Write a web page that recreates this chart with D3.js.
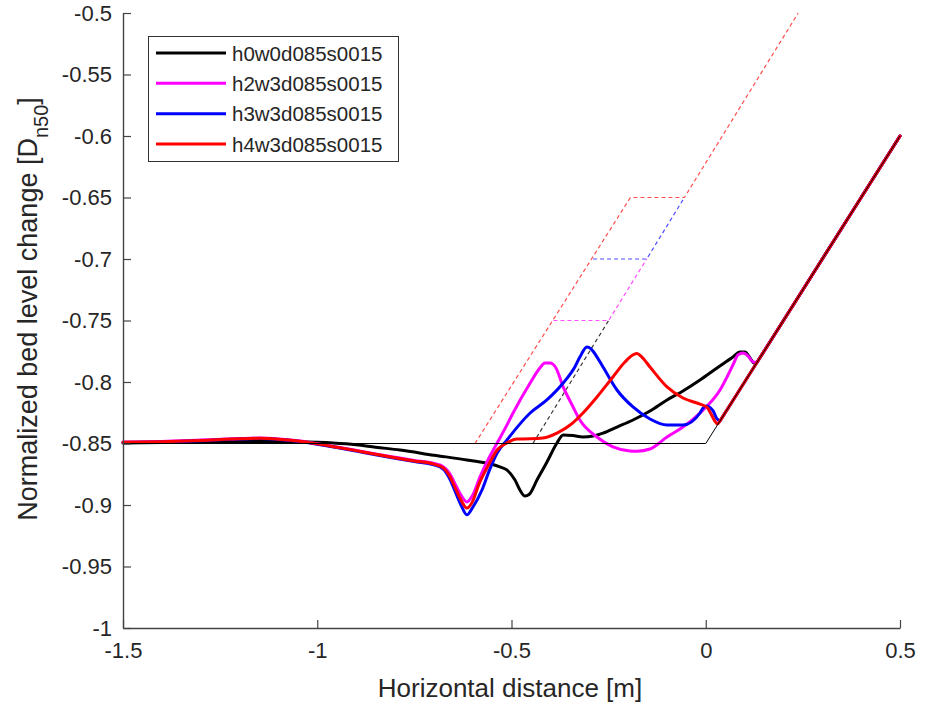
<!DOCTYPE html>
<html>
<head>
<meta charset="utf-8">
<script src="https://cdn.jsdelivr.net/npm/d3@7"></script>
<style>
  html, body { margin: 0; padding: 0; background: #fff; }
  svg { display: block; font-family: "Liberation Sans", Arial, Helvetica, sans-serif; }
</style>
</head>
<body>
<svg id="chart" width="928" height="702"></svg>
<script>
// ---- data -------------------------------------------------------------
const seriesNames = ["h0w0d085s0015", "h2w3d085s0015", "h3w3d085s0015", "h4w3d085s0015"];
const seriesColors = ["#000000", "#ff00ff", "#0000ff", "#ff0000"];

const xTickValues = [-1.5, -1, -0.5, 0, 0.5];
const xTickLabels = ["-1.5", "-1", "-0.5", "0", "0.5"];
const yTickValues = [-1, -0.95, -0.9, -0.85, -0.8, -0.75, -0.7, -0.65, -0.6, -0.55, -0.5];
const yTickLabels = ["-1", "-0.95", "-0.9", "-0.85", "-0.8", "-0.75", "-0.7", "-0.65", "-0.6", "-0.55", "-0.5"];

// initial bed profile: flat bottom, then 1:2 slope
const initialProfile = [[-1.5, -0.85], [0, -0.85], [0.5, -0.6]];

// measured bed profiles [x, z]; the last point is the top of the slope
const profileH0 = [[-1.5,-0.8495],[-1.4,-0.8492],[-1.3,-0.8488],[-1.2,-0.8484],[-1.1,-0.8484],[-1.0,-0.849],
  [-0.959,-0.8496],[-0.9,-0.851],[-0.85,-0.853],[-0.787,-0.8553],[-0.7,-0.8595],[-0.615,-0.8634],[-0.53,-0.869],
  [-0.512,-0.8715],[-0.491,-0.8797],[-0.478,-0.888],[-0.4653,-0.8927],[-0.455,-0.8915],[-0.4344,-0.8797],
  [-0.4087,-0.865],[-0.383,-0.8496],[-0.367,-0.843],[-0.342,-0.8435],[-0.316,-0.8447],[-0.29,-0.8439],
  [-0.2645,-0.8415],[-0.2285,-0.8366],[-0.1873,-0.8309],[-0.1435,-0.8236],[-0.0997,-0.8146],[-0.0586,-0.8073],
  [-0.0148,-0.7984],[0.029,-0.7886],[0.07,-0.7797],[0.088,-0.7756],[0.101,-0.7756],[0.114,-0.7805],
  [0.124,-0.7846],[0.131,-0.7845],[0.5,-0.6]];

const profileH2 = [[-1.5,-0.8488],[-1.4,-0.8483],[-1.3,-0.8472],[-1.2,-0.846],[-1.15,-0.8456],[-1.1,-0.8463],
  [-1.05,-0.8478],[-1.0,-0.8502],[-0.95,-0.8528],[-0.9,-0.8556],[-0.85,-0.8585],[-0.8,-0.8612],[-0.75,-0.8638],
  [-0.7,-0.8662],[-0.675,-0.869],[-0.66,-0.874],[-0.645,-0.883],[-0.63,-0.892],[-0.615,-0.8975],[-0.6,-0.892],
  [-0.581,-0.8772],[-0.56,-0.863],[-0.537,-0.8496],[-0.516,-0.8375],[-0.496,-0.8252],[-0.452,-0.8008],
  [-0.427,-0.7886],[-0.414,-0.7846],[-0.401,-0.7846],[-0.3855,-0.7886],[-0.367,-0.804],[-0.344,-0.8187],
  [-0.324,-0.8309],[-0.28,-0.8447],[-0.239,-0.8528],[-0.195,-0.8561],[-0.177,-0.8563],[-0.1435,-0.8545],
  [-0.0997,-0.8447],[-0.0586,-0.8366],[-0.0148,-0.8252],[0.0367,-0.8065],[0.07,-0.7862],[0.083,-0.778],
  [0.096,-0.7764],[0.109,-0.7789],[0.122,-0.7837],[0.132,-0.784],[0.5,-0.6]];

const profileH3 = [[-1.5,-0.8492],[-1.4,-0.8487],[-1.3,-0.8477],[-1.2,-0.8464],[-1.15,-0.846],[-1.1,-0.8467],
  [-1.05,-0.8482],[-1.0,-0.8506],[-0.95,-0.8533],[-0.9,-0.8562],[-0.85,-0.8592],[-0.8,-0.862],[-0.75,-0.8647],
  [-0.7,-0.8673],[-0.675,-0.871],[-0.66,-0.878],[-0.645,-0.889],[-0.63,-0.9],[-0.615,-0.908],[-0.6,-0.902],
  [-0.576,-0.8878],[-0.556,-0.871],[-0.537,-0.8577],[-0.512,-0.8472],[-0.452,-0.8252],[-0.409,-0.8146],
  [-0.367,-0.8008],[-0.337,-0.7878],[-0.324,-0.7797],[-0.306,-0.7715],[-0.296,-0.7728],[-0.29,-0.775],
  [-0.2645,-0.7878],[-0.2285,-0.8065],[-0.1873,-0.8203],[-0.1435,-0.8301],[-0.0997,-0.835],[-0.0586,-0.835],
  [-0.0148,-0.8252],[-0.007,-0.8211],[0.003,-0.8195],[0.012,-0.821],[0.019,-0.8235],[0.028,-0.8295],
  [0.036,-0.832],[0.5,-0.6]];

const profileH4 = [[-1.5,-0.849],[-1.4,-0.8485],[-1.3,-0.8475],[-1.2,-0.8462],[-1.15,-0.8458],[-1.1,-0.8465],
  [-1.05,-0.848],[-1.0,-0.8503],[-0.95,-0.853],[-0.9,-0.8558],[-0.85,-0.8588],[-0.8,-0.8616],[-0.75,-0.8642],
  [-0.7,-0.8668],[-0.675,-0.87],[-0.66,-0.876],[-0.645,-0.886],[-0.63,-0.896],[-0.615,-0.9025],[-0.6,-0.897],
  [-0.585,-0.884],[-0.56,-0.868],[-0.537,-0.8553],[-0.512,-0.8496],[-0.486,-0.8463],[-0.452,-0.8462],
  [-0.419,-0.8455],[-0.383,-0.8415],[-0.349,-0.835],[-0.316,-0.8252],[-0.28,-0.8122],[-0.239,-0.7959],
  [-0.208,-0.7837],[-0.185,-0.7775],[-0.177,-0.7768],[-0.165,-0.7795],[-0.1435,-0.7878],[-0.0997,-0.804],
  [-0.0586,-0.813],[-0.0148,-0.818],[0.003,-0.8205],[0.012,-0.825],[0.022,-0.831],[0.03,-0.834],
  [0.036,-0.832],[0.5,-0.6]];

// structure outlines (dashed)
const outlineH0 = [[-0.445,-0.85],[-0.25,-0.75]];
const outlineH2 = [[-0.392,-0.75],[-0.25,-0.75],[-0.152,-0.70]];
const outlineH3 = [[-0.29,-0.70],[-0.152,-0.70],[-0.055,-0.65]];
const outlineH4 = [[-0.594,-0.85],[-0.194,-0.65],[-0.055,-0.65],[0.238,-0.5]];

const profiles = [profileH0, profileH2, profileH3, profileH4];
const outlines = [outlineH0, outlineH2, outlineH3, outlineH4];
const outlineColors = ["#3a3a3a", "#ff4dff", "#4d4dff", "#ff4d4d"];

// ---- layout -----------------------------------------------------------
const svg = d3.select("#chart");
const x = d3.scaleLinear().domain([-1.5, 0.5]).range([123, 900]);
const y = d3.scaleLinear().domain([-1, -0.5]).range([628, 13]);
const textColor = "#262626";

const line = d3.line().x(d => x(d[0])).y(d => y(d[1]));
const smooth = d3.line().x(d => x(d[0])).y(d => y(d[1])).curve(d3.curveMonotoneX);

// smooth measured part, then straight along the undisturbed slope
function profilePath(p) {
  const last = p[p.length - 1];
  return smooth(p.slice(0, -1)) + "L" + x(last[0]) + "," + y(last[1]);
}

// dashed structure outlines
const gOut = svg.append("g");
outlines.forEach((o, i) => {
  gOut.append("path")
    .attr("d", line(o))
    .attr("fill", "none")
    .attr("stroke", outlineColors[i])
    .attr("stroke-width", 1.2)
    .attr("stroke-dasharray", "4,3");
});

// bed profiles
const gProf = svg.append("g");
profiles.forEach((p, i) => {
  gProf.append("path")
    .attr("d", profilePath(p))
    .attr("fill", "none")
    .attr("stroke", seriesColors[i])
    .attr("stroke-width", 3)
    .attr("stroke-linejoin", "round")
    .attr("stroke-linecap", "round");
});

// initial profile
svg.append("path")
  .attr("d", line(initialProfile))
  .attr("fill", "none")
  .attr("stroke", "#000")
  .attr("stroke-width", 1);

// ---- axes -------------------------------------------------------------
const xAxis = d3.axisBottom(x)
  .tickValues(xTickValues)
  .tickFormat((d, i) => xTickLabels[i])
  .tickSizeInner(-8).tickSizeOuter(0).tickPadding(14);
const yAxis = d3.axisLeft(y)
  .tickValues(yTickValues)
  .tickFormat((d, i) => yTickLabels[i])
  .tickSizeInner(-8).tickSizeOuter(0).tickPadding(11);

const gx = svg.append("g").attr("transform", "translate(0,628)").call(xAxis);
const gy = svg.append("g").attr("transform", "translate(123,0)").call(yAxis);
[gx, gy].forEach(g => {
  g.select(".domain").attr("stroke", "#444").attr("stroke-width", 1.4);
  g.selectAll(".tick line").attr("stroke", "#444").attr("stroke-width", 1.2);
  g.selectAll(".tick text")
    .attr("fill", textColor)
    .style("font-size", "22px")
    .style("font-family", "'Liberation Sans', Arial, sans-serif");
});

// axis titles
svg.append("text")
  .attr("x", 510).attr("y", 697)
  .attr("text-anchor", "middle")
  .attr("fill", textColor)
  .style("font-size", "26px")
  .text("Horizontal distance [m]");

const yl = svg.append("text")
  .attr("transform", "translate(37,309) rotate(-90)")
  .attr("text-anchor", "middle")
  .attr("fill", textColor)
  .style("font-size", "27px");
yl.append("tspan").text("Normalized bed level change [D");
yl.append("tspan").attr("baseline-shift", "sub").style("font-size", "20px").text("n50");
yl.append("tspan").text("]");

// ---- legend -----------------------------------------------------------
const lg = svg.append("g");
lg.append("rect")
  .attr("x", 148.5).attr("y", 36.5).attr("width", 250).attr("height", 125)
  .attr("fill", "#fff").attr("stroke", "#333").attr("stroke-width", 1);
const rowY = d3.scalePoint().domain(d3.range(seriesNames.length)).range([53, 144]);
seriesNames.forEach((name, i) => {
  lg.append("line")
    .attr("x1", 156).attr("x2", 226)
    .attr("y1", rowY(i)).attr("y2", rowY(i))
    .attr("stroke", seriesColors[i]).attr("stroke-width", 3);
  lg.append("text")
    .attr("x", 232).attr("y", rowY(i) + 7.5)
    .attr("fill", textColor)
    .style("font-size", "20.5px")
    .text(name);
});
</script>
</body>
</html>
